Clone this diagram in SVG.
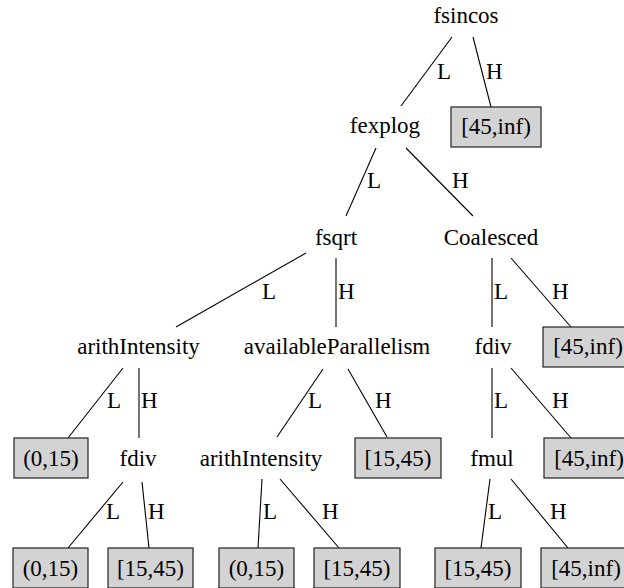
<svg xmlns="http://www.w3.org/2000/svg" width="624" height="588" viewBox="0 0 624 588">
  <style>
    .t { font-family: 'Liberation Serif', 'DejaVu Serif', serif; font-size: 23px; fill: #000; }
    .n { text-anchor: middle; }
    .lbl { text-anchor: start; }
    .leaf rect { fill: #d3d3d3; stroke: #222; stroke-width: 1.2; }
    #edges line { stroke: #000; stroke-width: 1.1; }
  </style>
  <rect width="624" height="588" fill="#fff"/>

  <g class="t">
  <!-- connectors with their L/H labels -->
  <g id="edges">
    <line x1="452" y1="37" x2="401" y2="106"/>
    <text class="lbl" x="437" y="79">L</text>
    <line x1="473" y1="37" x2="491" y2="107"/>
    <text class="lbl" x="486" y="79">H</text>

    <line x1="376" y1="148" x2="346" y2="216"/>
    <text class="lbl" x="367" y="188">L</text>
    <line x1="406" y1="148" x2="473" y2="216"/>
    <text class="lbl" x="452" y="188">H</text>

    <line x1="306" y1="253" x2="176" y2="327"/>
    <text class="lbl" x="262" y="299">L</text>
    <line x1="336" y1="258" x2="336" y2="327"/>
    <text class="lbl" x="338" y="299">H</text>
    <line x1="492" y1="258" x2="492" y2="327"/>
    <text class="lbl" x="494" y="299">L</text>
    <line x1="511" y1="258" x2="571" y2="327"/>
    <text class="lbl" x="552" y="299">H</text>

    <line x1="123" y1="368" x2="68" y2="438"/>
    <text class="lbl" x="107" y="408">L</text>
    <line x1="139" y1="368" x2="139" y2="438"/>
    <text class="lbl" x="141" y="408">H</text>
    <line x1="323" y1="369" x2="277" y2="437"/>
    <text class="lbl" x="308" y="408">L</text>
    <line x1="348" y1="369" x2="387" y2="437"/>
    <text class="lbl" x="375" y="408">H</text>
    <line x1="492" y1="368" x2="492" y2="438"/>
    <text class="lbl" x="494" y="408">L</text>
    <line x1="511" y1="368" x2="571" y2="438"/>
    <text class="lbl" x="552" y="408">H</text>

    <line x1="123" y1="482" x2="68" y2="548"/>
    <text class="lbl" x="106" y="519">L</text>
    <line x1="142" y1="482" x2="149" y2="548"/>
    <text class="lbl" x="148" y="519">H</text>
    <line x1="262" y1="479" x2="258" y2="548"/>
    <text class="lbl" x="263" y="519">L</text>
    <line x1="280" y1="479" x2="339" y2="548"/>
    <text class="lbl" x="322" y="519">H</text>
    <line x1="490" y1="479" x2="481" y2="548"/>
    <text class="lbl" x="488" y="519">L</text>
    <line x1="511" y1="479" x2="568" y2="548"/>
    <text class="lbl" x="550" y="519">H</text>
  </g>

  <!-- decision nodes -->
  <g id="fsincos"><text class="n" x="466" y="23">fsincos</text></g>
  <g id="fexplog"><text class="n" x="385" y="133">fexplog</text></g>
  <g id="fsqrt"><text class="n" x="336" y="245">fsqrt</text></g>
  <g id="coalesced"><text class="n" x="491" y="245">Coalesced</text></g>
  <g id="arithIntensity1"><text class="n" x="138.5" y="354">arithIntensity</text></g>
  <g id="availableParallelism"><text class="n" x="337" y="354">availableParallelism</text></g>
  <g id="fdiv1"><text class="n" x="493" y="354">fdiv</text></g>
  <g id="fdiv2"><text class="n" x="138" y="466">fdiv</text></g>
  <g id="arithIntensity2"><text class="n" x="261" y="466">arithIntensity</text></g>
  <g id="fmul"><text class="n" x="492" y="466">fmul</text></g>

  <!-- leaf range boxes -->
  <g id="leaf1" class="leaf"><rect x="451" y="107" width="90" height="40"/><text class="n" x="496" y="134">[45,inf)</text></g>
  <g id="leaf2" class="leaf"><rect x="543" y="327" width="90" height="40"/><text class="n" x="588" y="354">[45,inf)</text></g>
  <g id="leaf3" class="leaf"><rect x="14" y="438" width="74" height="40"/><text class="n" x="51" y="466">(0,15)</text></g>
  <g id="leaf4" class="leaf"><rect x="355" y="438" width="86" height="40"/><text class="n" x="398" y="466">[15,45)</text></g>
  <g id="leaf5" class="leaf"><rect x="544" y="438" width="90" height="40"/><text class="n" x="589" y="466">[45,inf)</text></g>
  <g id="leaf6" class="leaf"><rect x="13" y="548" width="75" height="40"/><text class="n" x="50.5" y="576">(0,15)</text></g>
  <g id="leaf7" class="leaf"><rect x="108" y="548" width="85" height="40"/><text class="n" x="150.5" y="576">[15,45)</text></g>
  <g id="leaf8" class="leaf"><rect x="219" y="548" width="75" height="40"/><text class="n" x="256.5" y="576">(0,15)</text></g>
  <g id="leaf9" class="leaf"><rect x="314" y="548" width="86" height="40"/><text class="n" x="357" y="576">[15,45)</text></g>
  <g id="leaf10" class="leaf"><rect x="435" y="548" width="86" height="40"/><text class="n" x="478" y="576">[15,45)</text></g>
  <g id="leaf11" class="leaf"><rect x="541" y="548" width="90" height="40"/><text class="n" x="586" y="576">[45,inf)</text></g>
  </g>
</svg>
